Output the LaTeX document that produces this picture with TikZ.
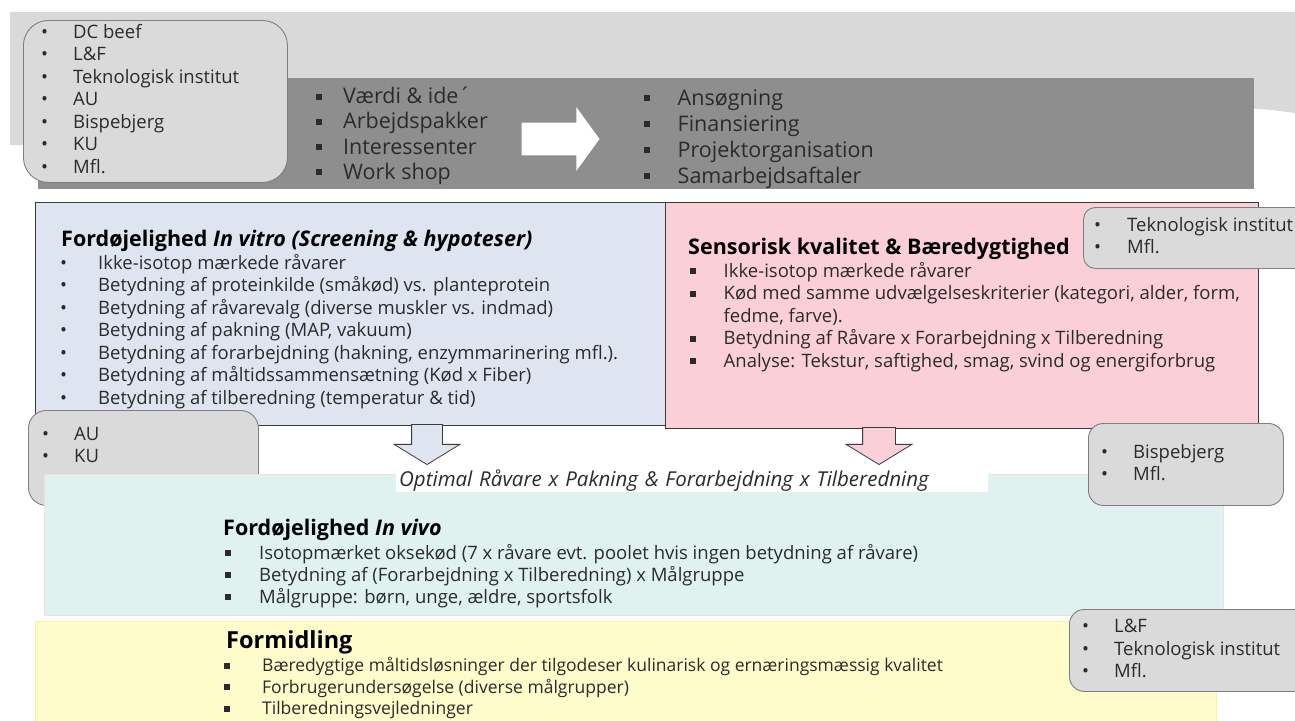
\documentclass[tikz,border=0pt]{standalone}
\usepackage{fontspec}
\setmainfont{Open Sans}
\usetikzlibrary{shapes.arrows, positioning}

\definecolor{bandlight}{HTML}{D9D9D9}
\definecolor{banddark}{HTML}{8E8E8E}
\definecolor{partnerfill}{HTML}{DADADA}
\definecolor{partnerline}{HTML}{7F7F7F}
\definecolor{vitrofill}{HTML}{DFE5F0}
\definecolor{sensfill}{HTML}{FBCFD7}
\definecolor{vivofill}{HTML}{DFF2F0}
\definecolor{vivoline}{HTML}{E4E4E4}
\definecolor{formfill}{HTML}{FFFCCC}
\definecolor{formline}{HTML}{FFF09A}
\definecolor{boxline}{HTML}{3A3A3A}
\definecolor{txt}{HTML}{2B2B2B}

% punkttegn: rund og firkantet, med plads foran teksten
\newcommand{\rb}[1][32pt]{\makebox[#1][l]{•}}
\newcommand{\sqb}[1][34pt]{\makebox[#1][l]{\rule[\dimexpr0.33em-3pt\relax]{6pt}{6pt}}}

\tikzset{
	block/.style={anchor=north west, inner sep=0pt, line width=1.1pt},
	partner/.style={block, draw=partnerline, fill=partnerfill, line width=0.9pt},
	lst/.style 2 args={anchor=north west, inner sep=0pt, align=left, text=txt,
		font=\fontsize{#1}{#2}\selectfont, execute at begin node=\strut},
	boxtitle/.style={anchor=base west, inner sep=0pt, text=black,
		font=\fontsize{21.5}{26}\selectfont\bfseries},
	blockarr/.style={single arrow, draw=boxline, line width=0.8pt, inner xsep=0pt, anchor=tip},
}

\begin{document}
\begin{tikzpicture}[x=1pt, y=-1pt]
	\useasboundingbox (0,0) rectangle (1295,720);

	% bandet foroven
	\fill[bandlight] (10,12) -- (1295,12) -- (1295,113) .. controls (1280,111) and (1265,109) .. (1245,108) -- (30,108) -- (30,145) -- (10,145) -- cycle;
	\node[block, fill=banddark, minimum width=1216pt, minimum height=111pt] (band) at (37,77) {};

	\node[partner, rounded corners=25pt, minimum width=264pt, minimum height=162pt] (dcbox) at (23,20) {};
	\node[lst={18.5}{22.5}] (dclist) at (41,23.9) {\rb DC beef\\\rb L\&F\\\rb Teknologisk institut\\\rb AU\\\rb Bispebjerg\\\rb KU\\\rb Mfl.};

	\node[lst={21.5}{25.3}] (ideer) at (315.5,87) {\sqb[27.5pt]Værdi \& ide´\\\sqb[27.5pt]Arbejdspakker\\\sqb[27.5pt]Interessenter\\\sqb[27.5pt]Work shop};
	\node[blockarr, fill=white, draw=none, minimum height=78pt, minimum width=63pt, inner ysep=16pt,
		single arrow head extend=15.5pt, single arrow tip angle=108] (pil) at (600,139) {};
	\node[lst={21.5}{26}] (ansoeg) at (643.5,89.5) {\sqb Ansøgning\\\sqb Finansiering\\\sqb Projektorganisation\\\sqb Samarbejdsaftaler};

	% in vitro og sensorik
	\node[block, draw=boxline, fill=vitrofill, minimum width=630pt, minimum height=223pt] (vitro) at (35,202) {};
	\node[boxtitle] (vitrotitle) at (61,246.7) {Fordøjelighed \textit{In vitro (Screening \& hypoteser)}};
	\node[lst={18.5}{22.5}] (vitrolist) at (60,253.9) {\rb[38pt]Ikke-isotop mærkede råvarer\\
		\rb[38pt]Betydning af proteinkilde (småkød) vs. planteprotein\\
		\rb[38pt]Betydning af råvarevalg (diverse muskler vs. indmad)\\
		\rb[38pt]Betydning af pakning (MAP, vakuum)\\
		\rb[38pt]Betydning af forarbejdning (hakning, enzymmarinering mfl.).\\
		\rb[38pt]Betydning af måltidssammensætning (Kød x Fiber)\\
		\rb[38pt]Betydning af tilberedning (temperatur \& tid)};

	\node[block, draw=boxline, fill=sensfill, minimum width=593pt, minimum height=226pt] (sens) at (665,202) {};
	\node[boxtitle] (senstitle) at (688,254.7) {Sensorisk kvalitet \& Bæredygtighed};
	\node[lst={18.5}{22.5}] (senslist) at (689.5,262) {\sqb Ikke-isotop mærkede råvarer\\
		\sqb Kød med samme udvælgelseskriterier (kategori, alder, form,\\
		\makebox[34pt]{}fedme, farve).\\
		\sqb Betydning af Råvare x Forarbejdning x Tilberedning\\
		\sqb Analyse: Tekstur, saftighed, smag, svind og energiforbrug};

	\node[partner, rounded corners=12pt, minimum width=230pt, minimum height=61pt] (tibox) at (1083,207) {};
	\node[lst={18.5}{22.5}] (tilist) at (1094,217) {\rb[33pt]Teknologisk institut\\\rb[33pt]Mfl.};

	\node[partner, rounded corners=18pt, minimum width=230pt, minimum height=95pt] (aubox) at (28,410) {};
	\node[lst={18.5}{22}] (aulist) at (42,427) {\rb AU\\\rb KU};

	\node[blockarr, fill=vitrofill, rotate=-90, minimum height=40pt, minimum width=65pt, inner ysep=15pt,
		single arrow head extend=17.5pt, single arrow tip angle=117] (vitroarr) at (427,465) {};
	\node[blockarr, fill=sensfill, rotate=-90, minimum height=37pt, minimum width=65pt, inner ysep=16pt,
		single arrow head extend=16.5pt, single arrow tip angle=117] (sensarr) at (879,465) {};

	% in vivo
	\node[block, draw=vivoline, fill=vivofill, line width=0.8pt, minimum width=1179pt, minimum height=141pt] (vivo) at (44,474) {};
	\node[anchor=north west, fill=white, inner sep=0pt, inner xsep=3pt, minimum width=592pt, minimum height=20pt,
		text width=586pt, align=left, text=txt, font=\fontsize{20.5}{24}\selectfont\itshape] (optimal) at (396,470)
		{Optimal Råvare x Pakning \& Forarbejdning x Tilberedning};
	\node[boxtitle] (vivotitle) at (223,535.7) {Fordøjelighed \textit{In vivo}};
	\node[lst={18.5}{22}] (vivolist) at (224.5,544.3) {\sqb[34.5pt]Isotopmærket oksekød (7 x råvare evt. poolet hvis ingen betydning af råvare)\\
		\sqb[34.5pt]Betydning af (Forarbejdning x Tilberedning) x Målgruppe\\
		\sqb[34.5pt]Målgruppe: børn, unge, ældre, sportsfolk};

	\node[partner, rounded corners=15pt, minimum width=195pt, minimum height=82pt] (bispbox) at (1088,423) {};
	\node[lst={18.5}{22}] (bisplist) at (1101,444) {\rb Bispebjerg\\\rb Mfl.};

	% formidling
	\node[block, draw=formline, fill=formfill, line width=0.8pt, minimum width=1181pt, minimum height=110pt] (form) at (35,621) {};
	\node[boxtitle, font=\fontsize{23.5}{28}\selectfont\bfseries] (formtitle) at (226,648.5) {Formidling};
	\node[lst={17.5}{21.5}] (formlist) at (223.5,657.3) {\sqb[38.5pt]Bæredygtige måltidsløsninger der tilgodeser kulinarisk og ernæringsmæssig kvalitet\\
		\sqb[38.5pt]Forbrugerundersøgelse (diverse målgrupper)\\
		\sqb[38.5pt]Tilberedningsvejledninger};

	\node[partner, rounded corners=15pt, minimum width=240pt, minimum height=82pt] (lfbox) at (1069,609) {};
	\node[lst={18.5}{22.5}] (lflist) at (1082,619) {\rb L\&F\\\rb Teknologisk institut\\\rb Mfl.};
\end{tikzpicture}
\end{document}
